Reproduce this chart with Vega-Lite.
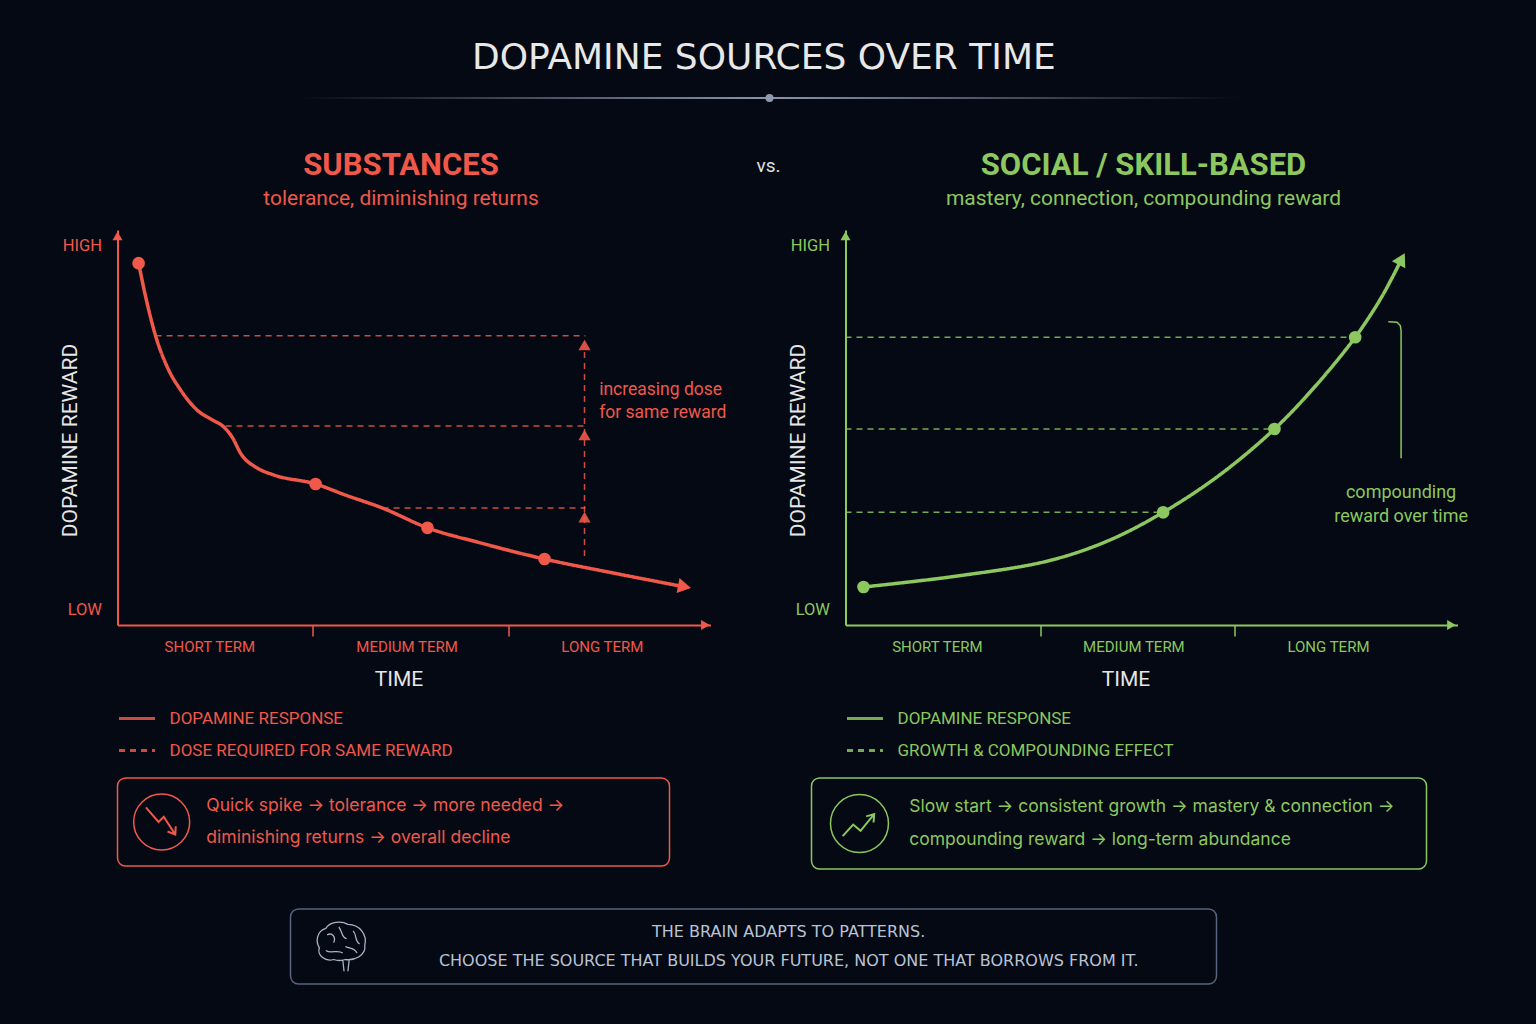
{
  "$schema": "https://vega.github.io/schema/vega-lite/v6.json",
  "background": "#050913",
  "padding": {"left": 59.5, "top": 40, "right": 68, "bottom": 40},
  "title": {
    "text": "DOPAMINE SOURCES OVER TIME",
    "font": "DejaVu Sans",
    "fontSize": 36,
    "fontWeight": "normal",
    "color": "#e8e8e8",
    "anchor": "middle",
    "frame": "bounds",
    "offset": 17
  },
  "config": {
    "font": "Roboto",
    "view": {"stroke": null},
    "axis": {"grid": false, "labelFont": "Roboto", "titleFont": "Roboto"},
    "legend": {"labelFont": "Roboto"},
    "title": {"font": "Roboto", "subtitleFont": "Roboto"},
    "text": {"font": "Roboto"}
  },
  "spacing": 18,
  "vconcat": [
    {
      "spacing": 48,
      "vconcat": [
        {
          "spacing": 10,
          "hconcat": [
            {"width": 171, "height": 1, "data": {"values": []}, "mark": "rect"},
            {
              "width": 942,
              "height": 2,
              "layer": [
                {
                  "data": {"values": [{}]},
                  "mark": {
                    "type": "rect",
                    "fill": {
                      "gradient": "linear",
                      "x1": 0, "x2": 1, "y1": 0, "y2": 0,
                      "stops": [
                        {"offset": 0, "color": "#050913"},
                        {"offset": 0.5, "color": "#8a95a8"},
                        {"offset": 1, "color": "#050913"}
                      ]
                    }
                  },
                  "encoding": {
                    "x": {"datum": 0, "type": "quantitative", "scale": {"domain": [0, 1], "nice": false}, "axis": null},
                    "x2": {"datum": 1},
                    "y": {"datum": 0, "type": "quantitative", "scale": {"domain": [0, 1], "nice": false}, "axis": null},
                    "y2": {"datum": 1}
                  }
                },
                {
                  "data": {"values": [{}]},
                  "mark": {"type": "point", "filled": true, "size": 64, "color": "#8e9ab0", "opacity": 1},
                  "encoding": {
                    "x": {"datum": 0.5, "type": "quantitative"},
                    "y": {"datum": 0.5, "type": "quantitative"}
                  }
                }
              ]
            }
          ]
        },
        {
          "spacing": 6,
          "resolve": {"scale": {"strokeDash": "independent"}, "legend": {"strokeDash": "independent"}},
          "hconcat": [
            {
              "width": 593,
              "height": 395,
              "title": {
                "text": "SUBSTANCES",
                "subtitle": "tolerance, diminishing returns",
                "color": "#f0584a",
                "subtitleColor": "#f0584a",
                "fontSize": 31,
                "fontWeight": "bold",
                "subtitleFontSize": 21,
                "subtitlePadding": 6,
                "anchor": "middle",
                "frame": "group",
                "dx": -13,
                "offset": 20
              },
              "layer": [
                {
                  "data": {"values": [
                    {"t": 0.195, "t2": 2.396, "r": 7.32},
                    {"t": 0.553, "t2": 2.396, "r": 5.04},
                    {"t": 1.357, "t2": 2.396, "r": 2.96}
                  ]},
                  "mark": {"type": "rule", "color": "#f0584a", "strokeWidth": 1.5, "opacity": 0.85},
                  "encoding": {
                    "x": {
                      "field": "t", "type": "quantitative",
                      "scale": {"domain": [0, 3.036], "nice": false, "zero": false},
                      "axis": {
                        "values": [0.47, 1, 1.48, 2, 2.48],
                        "labelExpr": "datum.value == 1 || datum.value == 2 ? '' : datum.value < 1 ? 'SHORT TERM' : datum.value < 2 ? 'MEDIUM TERM' : 'LONG TERM'",
                        "domainColor": "#f0584a", "domainWidth": 2,
                        "tickColor": "#f0584a", "tickWidth": 1.5, "tickSize": 11,
                        "tickOpacity": {"condition": {"test": "datum.value == 1 || datum.value == 2", "value": 1}, "value": 0},
                        "labelColor": "#f0584a", "labelFontSize": 15, "labelPadding": 3,
                        "labelOverlap": false, "labelFlush": false,
                        "title": "TIME", "titleColor": "#e6e6e6", "titleFontSize": 21,
                        "titleFontWeight": "normal", "titlePadding": 14, "titleX": 281
                      }
                    },
                    "x2": {"field": "t2"},
                    "y": {
                      "field": "r", "type": "quantitative",
                      "scale": {"domain": [0, 10], "nice": false},
                      "axis": {
                        "values": [0.4, 9.6],
                        "labelExpr": "datum.value > 5 ? 'HIGH' : 'LOW'",
                        "domainColor": "#f0584a", "domainWidth": 2,
                        "ticks": false, "tickSize": 0,
                        "labelColor": "#f0584a", "labelFontSize": 16.5, "labelPadding": 16,
                        "title": "DOPAMINE REWARD", "titleColor": "#e6e6e6", "titleFontSize": 21,
                        "titleFontWeight": "normal", "titlePadding": -18.5, "titleY": 210
                      }
                    },
                    "strokeDash": {
                      "datum": "DOSE REQUIRED FOR SAME REWARD",
                      "scale": {"domain": ["DOPAMINE RESPONSE", "DOSE REQUIRED FOR SAME REWARD"], "range": [[1, 0], [6, 5]]},
                      "legend": {
                        "title": null, "orient": "bottom", "direction": "vertical", "offset": 10, "padding": 0,
                        "symbolType": "stroke", "symbolSize": 1296, "symbolStrokeWidth": 3, "symbolStrokeColor": "#f0584a",
                        "labelColor": "#f0584a", "labelFontSize": 17, "labelOffset": 13, "rowPadding": 4, "labelLimit": 400
                      }
                    }
                  }
                },
                {
                  "data": {"values": [{"t": 2.391, "r": 1.75, "r2": 7.05}]},
                  "mark": {"type": "rule", "color": "#f0584a", "strokeWidth": 1.5, "opacity": 0.85},
                  "encoding": {
                    "x": {"field": "t", "type": "quantitative"},
                    "y": {"field": "r", "type": "quantitative"},
                    "y2": {"field": "r2"},
                    "strokeDash": {"datum": "DOSE REQUIRED FOR SAME REWARD"}
                  }
                },
                {
                  "data": {"values": [{"t": 2.391, "r": 2.73}, {"t": 2.391, "r": 4.81}, {"t": 2.391, "r": 7.09}]},
                  "mark": {"type": "point", "shape": "triangle-up", "filled": true, "size": 150, "color": "#f0584a", "opacity": 0.9},
                  "encoding": {
                    "x": {"field": "t", "type": "quantitative"},
                    "y": {"field": "r", "type": "quantitative"}
                  }
                },
                {
                  "data": {"values": [
                    {"t": 0.108, "r": 9.16}, {"t": 0.152, "r": 8.14}, {"t": 0.195, "r": 7.32},
                    {"t": 0.254, "r": 6.54}, {"t": 0.323, "r": 5.95}, {"t": 0.408, "r": 5.44},
                    {"t": 0.486, "r": 5.19}, {"t": 0.538, "r": 5.04}, {"t": 0.589, "r": 4.74},
                    {"t": 0.63, "r": 4.35}, {"t": 0.717, "r": 3.97}, {"t": 0.799, "r": 3.8},
                    {"t": 1.014, "r": 3.57}, {"t": 1.167, "r": 3.29}, {"t": 1.357, "r": 2.96},
                    {"t": 1.587, "r": 2.46}, {"t": 1.857, "r": 2.08}, {"t": 2.186, "r": 1.67},
                    {"t": 2.524, "r": 1.33}, {"t": 2.903, "r": 0.967}
                  ]},
                  "mark": {"type": "line", "color": "#f0584a", "strokeWidth": 3.5, "interpolate": "monotone"},
                  "encoding": {
                    "x": {"field": "t", "type": "quantitative"},
                    "y": {"field": "r", "type": "quantitative"},
                    "strokeDash": {"datum": "DOPAMINE RESPONSE"}
                  }
                },
                {
                  "data": {"values": [
                    {"t": 0.108, "r": 9.16}, {"t": 1.014, "r": 3.57}, {"t": 1.587, "r": 2.46}, {"t": 2.186, "r": 1.67}
                  ]},
                  "mark": {"type": "point", "filled": true, "size": 160, "color": "#f0584a", "opacity": 1},
                  "encoding": {
                    "x": {"field": "t", "type": "quantitative"},
                    "y": {"field": "r", "type": "quantitative"}
                  }
                },
                {
                  "data": {"values": [{}]},
                  "mark": {"type": "point", "shape": "triangle-right", "angle": 11, "filled": true, "size": 230, "color": "#f0584a", "opacity": 1},
                  "encoding": {
                    "x": {"datum": 2.903, "type": "quantitative"},
                    "y": {"datum": 0.967, "type": "quantitative"}
                  }
                },
                {
                  "data": {"values": [{}]},
                  "mark": {"type": "point", "shape": "triangle-right", "filled": true, "size": 100, "color": "#f0584a", "opacity": 1},
                  "encoding": {
                    "x": {"datum": 3.01, "type": "quantitative"},
                    "y": {"datum": 0, "type": "quantitative"}
                  }
                },
                {
                  "data": {"values": [{}]},
                  "mark": {"type": "point", "shape": "triangle-up", "filled": true, "size": 100, "color": "#f0584a", "opacity": 1},
                  "encoding": {
                    "x": {"datum": 0, "type": "quantitative"},
                    "y": {"datum": 9.85, "type": "quantitative"}
                  }
                },
                {
                  "data": {"values": [{}]},
                  "mark": {"type": "text", "align": "left", "baseline": "middle", "fontSize": 17.5, "lineHeight": 23, "color": "#f0584a"},
                  "encoding": {
                    "x": {"datum": 2.466, "type": "quantitative"},
                    "y": {"datum": 5.94, "type": "quantitative"},
                    "text": {"value": ["increasing dose", "for same reward"]}
                  }
                }
              ]
            },
            {
              "width": 44,
              "height": 1,
              "data": {"values": []},
              "mark": "rect",
              "title": {"text": "vs.", "fontSize": 19, "fontWeight": "normal", "color": "#e0e0e0", "anchor": "middle", "frame": "group", "dx": 14, "offset": 54}
            },
            {
              "width": 612,
              "height": 395,
              "title": {
                "text": "SOCIAL / SKILL-BASED",
                "subtitle": "mastery, connection, compounding reward",
                "color": "#8cc75f",
                "subtitleColor": "#8cc75f",
                "fontSize": 31,
                "fontWeight": "bold",
                "subtitleFontSize": 21,
                "subtitlePadding": 6,
                "anchor": "middle",
                "frame": "group",
                "dx": -8,
                "offset": 20
              },
              "layer": [
                {
                  "data": {"values": [
                    {"t": 0, "t2": 2.62, "r": 7.284},
                    {"t": 0, "t2": 2.205, "r": 4.962},
                    {"t": 0, "t2": 1.633, "r": 2.853}
                  ]},
                  "mark": {"type": "rule", "color": "#8cc75f", "strokeWidth": 1.5, "opacity": 0.85},
                  "encoding": {
                    "x": {
                      "field": "t", "type": "quantitative",
                      "scale": {"domain": [0, 3.146], "nice": false, "zero": false},
                      "axis": {
                        "values": [0.47, 1, 1.48, 2, 2.48],
                        "labelExpr": "datum.value == 1 || datum.value == 2 ? '' : datum.value < 1 ? 'SHORT TERM' : datum.value < 2 ? 'MEDIUM TERM' : 'LONG TERM'",
                        "domainColor": "#8cc75f", "domainWidth": 2,
                        "tickColor": "#8cc75f", "tickWidth": 1.5, "tickSize": 11,
                        "tickOpacity": {"condition": {"test": "datum.value == 1 || datum.value == 2", "value": 1}, "value": 0},
                        "labelColor": "#8cc75f", "labelFontSize": 15, "labelPadding": 3,
                        "labelOverlap": false, "labelFlush": false,
                        "title": "TIME", "titleColor": "#e6e6e6", "titleFontSize": 21,
                        "titleFontWeight": "normal", "titlePadding": 14, "titleX": 280
                      }
                    },
                    "x2": {"field": "t2"},
                    "y": {
                      "field": "r", "type": "quantitative",
                      "scale": {"domain": [0, 10], "nice": false},
                      "axis": {
                        "values": [0.4, 9.6],
                        "labelExpr": "datum.value > 5 ? 'HIGH' : 'LOW'",
                        "domainColor": "#8cc75f", "domainWidth": 2,
                        "ticks": false, "tickSize": 0,
                        "labelColor": "#8cc75f", "labelFontSize": 16.5, "labelPadding": 16,
                        "title": "DOPAMINE REWARD", "titleColor": "#e6e6e6", "titleFontSize": 21,
                        "titleFontWeight": "normal", "titlePadding": -18.5, "titleY": 210
                      }
                    },
                    "strokeDash": {
                      "datum": "GROWTH & COMPOUNDING EFFECT",
                      "scale": {"domain": ["DOPAMINE RESPONSE", "GROWTH & COMPOUNDING EFFECT"], "range": [[1, 0], [6, 5]]},
                      "legend": {
                        "title": null, "orient": "bottom", "direction": "vertical", "offset": 10, "padding": 0,
                        "symbolType": "stroke", "symbolSize": 1296, "symbolStrokeWidth": 3, "symbolStrokeColor": "#8cc75f",
                        "labelColor": "#8cc75f", "labelFontSize": 17, "labelOffset": 13, "rowPadding": 4, "labelLimit": 400
                      }
                    }
                  }
                },
                {
                  "data": {"values": [
                    {"t": 2.79, "r": 7.68, "k": 1}, {"t": 2.835, "r": 7.665, "k": 2},
                    {"t": 2.852, "r": 7.58, "k": 3}, {"t": 2.856, "r": 7.45, "k": 4},
                    {"t": 2.856, "r": 4.22, "k": 5}
                  ]},
                  "mark": {"type": "line", "color": "#8cc75f", "strokeWidth": 1.5},
                  "encoding": {
                    "x": {"field": "t", "type": "quantitative"},
                    "y": {"field": "r", "type": "quantitative"},
                    "order": {"field": "k", "type": "quantitative"}
                  }
                },
                {
                  "data": {"values": [
                    {"t": 0.0925, "r": 0.962}, {"t": 0.576, "r": 1.241}, {"t": 1.039, "r": 1.62},
                    {"t": 1.347, "r": 2.127}, {"t": 1.633, "r": 2.853}, {"t": 1.923, "r": 3.797},
                    {"t": 2.205, "r": 4.962}, {"t": 2.416, "r": 6.051}, {"t": 2.62, "r": 7.284},
                    {"t": 2.756, "r": 8.304}, {"t": 2.859, "r": 9.266}
                  ]},
                  "mark": {"type": "line", "color": "#8cc75f", "strokeWidth": 3.5, "interpolate": "catmull-rom"},
                  "encoding": {
                    "x": {"field": "t", "type": "quantitative"},
                    "y": {"field": "r", "type": "quantitative"},
                    "strokeDash": {"datum": "DOPAMINE RESPONSE"}
                  }
                },
                {
                  "data": {"values": [
                    {"t": 0.0925, "r": 0.962}, {"t": 1.633, "r": 2.853}, {"t": 2.205, "r": 4.962}, {"t": 2.62, "r": 7.284}
                  ]},
                  "mark": {"type": "point", "filled": true, "size": 160, "color": "#8cc75f", "opacity": 1},
                  "encoding": {
                    "x": {"field": "t", "type": "quantitative"},
                    "y": {"field": "r", "type": "quantitative"}
                  }
                },
                {
                  "data": {"values": [{}]},
                  "mark": {"type": "point", "shape": "triangle-right", "angle": -62, "filled": true, "size": 230, "color": "#8cc75f", "opacity": 1},
                  "encoding": {
                    "x": {"datum": 2.859, "type": "quantitative"},
                    "y": {"datum": 9.266, "type": "quantitative"}
                  }
                },
                {
                  "data": {"values": [{}]},
                  "mark": {"type": "point", "shape": "triangle-right", "filled": true, "size": 100, "color": "#8cc75f", "opacity": 1},
                  "encoding": {
                    "x": {"datum": 3.115, "type": "quantitative"},
                    "y": {"datum": 0, "type": "quantitative"}
                  }
                },
                {
                  "data": {"values": [{}]},
                  "mark": {"type": "point", "shape": "triangle-up", "filled": true, "size": 100, "color": "#8cc75f", "opacity": 1},
                  "encoding": {
                    "x": {"datum": 0, "type": "quantitative"},
                    "y": {"datum": 9.85, "type": "quantitative"}
                  }
                },
                {
                  "data": {"values": [{}]},
                  "mark": {"type": "text", "align": "center", "baseline": "middle", "fontSize": 18, "lineHeight": 24, "color": "#8cc75f"},
                  "encoding": {
                    "x": {"datum": 2.856, "type": "quantitative"},
                    "y": {"datum": 3.34, "type": "quantitative"},
                    "text": {"value": ["compounding", "reward over time"]}
                  }
                }
              ]
            }
          ]
        }
      ]
    },
    {
      "spacing": 38,
      "vconcat": [
        {
          "spacing": 140,
          "hconcat": [
            {
              "width": 552,
              "height": 88,
              "view": {"stroke": "#f0584a", "strokeWidth": 1.5, "cornerRadius": 8},
              "layer": [
                {
                  "data": {"values": [{}]},
                  "mark": {"type": "point", "shape": "circle", "filled": false, "size": 3136, "color": "#f0584a", "strokeWidth": 1.5, "opacity": 1},
                  "encoding": {"x": {"datum": 0.08, "type": "quantitative", "scale": {"domain": [0, 1], "nice": false}, "axis": null}}
                },
                {
                  "data": {"values": [{}]},
                  "mark": {"type": "point", "shape": "M-0.75,-0.7L-0.15,0L0.1,-0.25L0.65,0.6M0.28,0.45L0.65,0.6L0.67,0.2", "filled": false, "size": 1764, "color": "#f0584a", "strokeWidth": 2, "opacity": 1},
                  "encoding": {"x": {"datum": 0.08, "type": "quantitative"}}
                },
                {
                  "data": {"values": [
                    {"line": 1, "text": "Quick spike → tolerance → more needed →"},
                    {"line": 2, "text": "diminishing returns → overall decline"}
                  ]},
                  "mark": {"type": "text", "align": "left", "baseline": "middle", "font": "Inter", "fontSize": 17.5, "color": "#f0584a"},
                  "encoding": {
                    "x": {"datum": 0.161, "type": "quantitative"},
                    "y": {"field": "line", "type": "ordinal", "scale": {"padding": 0.875}, "axis": null},
                    "text": {"field": "text"}
                  }
                }
              ]
            },
            {
              "width": 615,
              "height": 91,
              "view": {"stroke": "#8cc75f", "strokeWidth": 1.5, "cornerRadius": 8},
              "layer": [
                {
                  "data": {"values": [{}]},
                  "mark": {"type": "point", "shape": "circle", "filled": false, "size": 3364, "color": "#8cc75f", "strokeWidth": 1.5, "opacity": 1},
                  "encoding": {"x": {"datum": 0.078, "type": "quantitative", "scale": {"domain": [0, 1], "nice": false}, "axis": null}}
                },
                {
                  "data": {"values": [{}]},
                  "mark": {"type": "point", "shape": "M-0.8,0.6L-0.3,0.05L0.05,0.35L0.7,-0.45M0.32,-0.34L0.7,-0.45L0.67,-0.05", "filled": false, "size": 1764, "color": "#8cc75f", "strokeWidth": 2, "opacity": 1},
                  "encoding": {"x": {"datum": 0.078, "type": "quantitative"}}
                },
                {
                  "data": {"values": [
                    {"line": 1, "text": "Slow start → consistent growth → mastery & connection →"},
                    {"line": 2, "text": "compounding reward → long-term abundance"}
                  ]},
                  "mark": {"type": "text", "align": "left", "baseline": "middle", "font": "Inter", "fontSize": 17.5, "color": "#8cc75f"},
                  "encoding": {
                    "x": {"datum": 0.159, "type": "quantitative"},
                    "y": {"field": "line", "type": "ordinal", "scale": {"padding": 0.92}, "axis": null},
                    "text": {"field": "text"}
                  }
                }
              ]
            }
          ]
        },
        {
          "spacing": 10,
          "hconcat": [
            {"width": 162, "height": 1, "data": {"values": []}, "mark": "rect"},
            {
              "width": 926,
              "height": 75,
              "view": {"stroke": "#55647f", "strokeWidth": 1.5, "cornerRadius": 8},
              "layer": [
                {
                  "data": {"values": [{}]},
                  "mark": {
                    "type": "point",
                    "shape": "M0.15,0.5C0.5,0.55 0.95,0.35 0.9,-0.05C1,-0.45 0.7,-0.85 0.25,-0.85C0,-1 -0.45,-0.95 -0.6,-0.7C-0.95,-0.6 -1,-0.2 -0.85,0.05C-0.95,0.35 -0.6,0.6 -0.3,0.5C-0.15,0.55 0,0.55 0.15,0.5ZM0.05,0.5L0.1,0.95M0.3,0.5L0.25,0.95M-0.55,-0.45C-0.35,-0.55 -0.2,-0.35 -0.3,-0.15M-0.1,-0.75C0.05,-0.55 0,-0.35 0.2,-0.3M0.45,-0.6C0.6,-0.45 0.5,-0.2 0.7,-0.1M-0.6,0.15C-0.4,0.3 -0.15,0.1 0.05,0.25M0.15,0C0.35,0.1 0.5,0.05 0.6,0.25",
                    "filled": false, "size": 2704, "color": "#a8b3c7", "strokeWidth": 1.3, "opacity": 1
                  },
                  "encoding": {"x": {"datum": 0.055, "type": "quantitative", "scale": {"domain": [0, 1], "nice": false}, "axis": null}}
                },
                {
                  "data": {"values": [
                    {"line": 1, "text": "THE BRAIN ADAPTS TO PATTERNS."},
                    {"line": 2, "text": "CHOOSE THE SOURCE THAT BUILDS YOUR FUTURE, NOT ONE THAT BORROWS FROM IT."}
                  ]},
                  "mark": {"type": "text", "align": "center", "baseline": "middle", "font": "DejaVu Sans", "fontSize": 16, "color": "#b8c3d6"},
                  "encoding": {
                    "x": {"datum": 0.538, "type": "quantitative"},
                    "y": {"field": "line", "type": "ordinal", "scale": {"padding": 0.839}, "axis": null},
                    "text": {"field": "text"}
                  }
                }
              ]
            }
          ]
        }
      ]
    }
  ]
}
